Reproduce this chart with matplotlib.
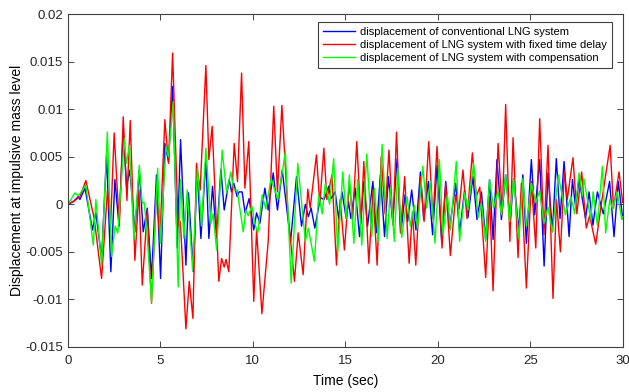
import numpy as np
import matplotlib
matplotlib.use("Agg")
import matplotlib.pyplot as plt

plt.rcParams['font.family'] = ['Liberation Sans', 'DejaVu Sans']

# values, displacement in units of 1e-3
blue_t = [0, 0.3, 0.56, 0.65, 0.92, 1.33, 1.51, 1.82, 2.09, 2.32, 2.54, 2.76, 2.99, 3.17, 3.35,
          3.62, 3.86, 4.07, 4.29, 4.52, 4.79, 5.01, 5.24, 5.44, 5.66, 5.91, 6.09, 6.38, 6.52,
          6.78, 6.99, 7.19, 7.46, 7.62, 7.82, 8.04, 8.27, 8.45, 8.72, 8.85, 8.97, 9.15, 9.25,
          9.42, 9.58, 9.8, 10.05, 10.2, 10.38, 10.65, 10.83, 11.1, 11.33, 11.59, 12.04, 12.36,
          12.63, 12.84, 13.0, 13.15, 13.35, 13.65, 13.85, 14.1, 14.23, 14.45, 14.64, 14.82,
          15.05, 15.17, 15.3, 15.53, 15.77, 16.0, 16.2, 16.49, 16.67, 16.9, 17.12, 17.33, 17.56,
          17.8, 18.0, 18.23, 18.37, 18.59, 18.82, 19.06, 19.24, 19.49, 19.72, 19.96, 20.21,
          20.43, 20.64, 20.97, 21.18, 21.45, 21.63, 21.9, 22.12, 22.36, 22.59, 22.8, 22.99,
          23.2, 23.44, 23.67, 23.92, 24.1, 24.39, 24.6, 24.79, 25.06, 25.24, 25.51, 25.75,
          25.96, 26.2, 26.41, 26.61, 26.83, 27.1, 27.28, 27.46, 27.64, 27.99, 28.18, 28.39,
          28.63, 28.95, 29.29, 29.53, 29.76, 30.0]
blue_y = [0, 0.3, 0.8, 0.5, 1.7, -2.7, -0.9, -5.7, 5.2, -7.1, 2.6, -2.2, 7.8, 1.9, 3.6,
          -2.9, 3.6, -2.9, -0.4, -7.8, 3.1, -7.8, 6.4, 4.5, 12.4, -4.6, 6.8, -6.4, 1.2,
          -7.1, 3.6, -3.6, 4.7, -3.6, 1.9, -3.6, 3.7, -0.6, 2.6, 1.3, 2.2, 0.8, 1.3,
          1.3, -0.9, 0.6, -2.7, -0.9, -2.0, 1.7, -0.6, 3.3, -0.6, 3.6, -3.9, 2.9,
          -2.3, 0.0, -1.3, -0.4, -2.5, 0.7, 0.5, 1.9, 0.6, 1.3, -1.5, 1.3,
          -1.5, 0.3, -1.5, 1.7, -3.4, 2.4, -2.3, 2.4, -3.0, 3.1, -3.4, 2.9, -1.8,
          4.8, -3.0, 1.0, -1.8, 1.5, -2.7, 3.4, -1.6, 2.4, -3.2, 4.1, -3.9,
          2.4, -2.5, 2.2, -3.0, 1.5, -1.4, 2.9, -1.6, 1.3, -3.7, 2.6, -3.7,
          4.7, -1.6, 3.1, -1.8, 2.7, -2.7, 3.1, -4.1, 4.7, -1.1, 4.7, -6.5,
          3.3, -2.9, 4.8, -1.5, 4.5, -3.4, 2.6, -0.4, 2.7, -1.5, 1.3, -2.2,
          1.3, -1.0, 2.4, -3.4, 2.4, -1.5]

red_t = [0, 0.3, 0.65, 0.97, 1.42, 1.82, 2.14, 2.31, 2.5, 2.78, 2.99, 3.19, 3.37, 3.62, 3.84,
         4.02, 4.29, 4.52, 4.79, 4.97, 5.24, 5.44, 5.66, 5.96, 6.08, 6.38, 6.56, 6.76, 6.95,
         7.15, 7.46, 7.62, 7.8, 8.16, 8.31, 8.45, 8.55, 8.7, 8.99, 9.17, 9.39, 9.57, 9.78,
         10.05, 10.2, 10.49, 10.83, 11.13, 11.33, 11.57, 11.9, 12.25, 12.45, 12.72, 12.97,
         13.1, 13.44, 13.62, 13.84, 14.0, 14.28, 14.52, 14.72, 14.95, 15.22, 15.4, 15.62,
         15.85, 16.0, 16.27, 16.5, 16.72, 16.94, 17.15, 17.36, 17.58, 17.77, 17.98, 18.21,
         18.45, 18.63, 18.81, 19.06, 19.26, 19.51, 19.74, 19.96, 20.23, 20.43, 20.68, 20.97,
         21.15, 21.36, 21.58, 21.87, 22.08, 22.27, 22.59, 22.8, 22.99, 23.26, 23.49, 23.67,
         23.9, 24.07, 24.34, 24.52, 24.79, 25.06, 25.3, 25.51, 25.74, 25.96, 26.23, 26.42,
         26.63, 26.85, 27.0, 27.31, 27.52, 27.78, 28.03, 28.21, 28.54, 28.85, 29.32, 29.5,
         29.8, 30.0]
red_y = [0, 0.3, 0.8, 2.5, -1.5, -7.8, 1.5, -2.0, 7.5, -2.3, 9.2, 0.4, 8.8, -5.9, 1.5,
         -8.5, -0.6, -10.4, 1.5, -3.7, 8.9, 4.3, 15.9, -2.3, -1.8, -13.1, -8.1, -12.0, 4.3,
         1.5, 14.6, 4.7, 8.2, -8.1, -5.7, -6.6, -5.8, -7.1, 6.4, 2.4, 13.8, 1.7, 6.6,
         -10.2, -2.7, -11.5, -3.9, 10.3, 1.3, 10.4, -1.0, -8.1, -3.0, -7.4, 1.6,
         -0.4, 5.2, 0.0, 5.9, 0.5, 3.1, -6.4, 0.5, -4.8, 2.2, -1.5, 6.6,
         -2.0, 4.5, -6.2, 1.5, -6.4, 5.0, -1.0, 5.7, -2.2, 7.6, -3.0, 2.9,
         -6.2, -0.8, -6.4, 2.9, -1.8, 6.6, -1.5, 6.1, -4.6, 2.2, -5.4, 1.0,
         -0.5, 3.6, -1.5, 5.4, 0.8, 1.8, -7.7, 0.8, -9.1, 6.4, -1.0, 10.5,
         -3.9, 7.0, -5.6, 2.2, -8.8, 2.4, -4.6, 9.0, -3.2, 6.2, -9.9, 0.5,
         -5.0, 3.5, 0.5, 4.9, -1.0, 3.4, -2.5, -1.2, -4.2, 0.1, 6.2, -0.4,
         3.4, 0.2]

green_t = [0, 0.38, 0.55, 0.68, 0.97, 1.37, 1.51, 1.82, 2.13, 2.36, 2.55, 2.7, 3.05, 3.17,
           3.32, 3.57, 3.86, 4.02, 4.12, 4.25, 4.52, 4.85, 5.01, 5.3, 5.44, 5.69, 5.96, 6.09,
           6.27, 6.45, 6.74, 7.01, 7.23, 7.46, 7.73, 7.85, 8.04, 8.34, 8.58, 8.81, 8.97, 9.15,
           9.48, 9.62, 9.75, 9.95, 10.1, 10.27, 10.5, 10.7, 10.99, 11.35, 11.76, 12.07, 12.43,
           12.84, 13.0, 13.33, 13.56, 13.75, 13.92, 14.15, 14.37, 14.59, 14.86, 15.05, 15.22,
           15.46, 15.67, 15.89, 16.16, 16.43, 16.58, 16.79, 16.99, 17.26, 17.44, 17.65, 17.84,
           18.05, 18.34, 18.52, 18.73, 18.9, 19.19, 19.4, 19.6, 19.85, 20.09, 20.28, 20.52,
           20.68, 21.0, 21.18, 21.45, 21.63, 21.94, 22.18, 22.36, 22.59, 22.8, 23.02, 23.26,
           23.44, 23.67, 23.88, 24.1, 24.39, 24.6, 24.79, 25.06, 25.3, 25.51, 25.74, 25.96,
           26.2, 26.52, 26.9, 27.2, 27.4, 27.64, 27.82, 27.9, 28.27, 28.4, 28.63, 28.9, 29.08,
           29.3, 29.45, 29.7, 29.95, 30.0]
green_y = [0, 1.2, 0.9, 1.2, 2.0, -4.3, 0.5, -6.4, 7.6, -5.5, -2.3, -3.0, 6.9, 4.3,
           6.2, -3.7, 4.1, 0.1, 0.2, -2.3, -10.3, 3.8, -4.1, 6.1, 5.0, 10.8, -8.7, 2.6,
           -3.6, 1.5, -6.9, 3.8, -2.3, 5.9, -2.0, -1.0, -4.8, 5.7, 1.2, 3.4, 1.5, 1.5,
           -2.9, -0.6, -1.2, -0.2, -2.0, -3.0, 1.0, -0.5, 2.7, 0.5, 5.5, -8.3, 4.3,
           -3.9, -2.5, -6.0, 1.0, -1.0, 2.2, 0.0, 4.8, -5.1, 3.4, -1.5, 3.1,
           -4.1, 2.6, -4.3, 5.3, -3.4, 1.7, -3.9, 6.3, -3.6, 1.7, -3.9, 3.8,
           -3.5, 0.8, -2.3, -0.1, -2.5, 4.0, -0.4, 2.4, -4.1, 4.7, -3.2, 1.0,
           -2.7, 4.5, -3.9, 1.2, -0.6, 4.3, -1.4, 0.1, -3.9, 2.6, -0.4, 1.4,
           -1.1, 3.1, -1.8, 2.7, -3.6, 2.7, -2.3, 2.2, 0.2, 1.4, -2.0, -0.3,
           -2.9, 3.1, -1.1, 0.8, -1.0, 3.3, 0.9, 2.7, -1.6, 1.3, -2.2, 4.0, -3.0,
           0.5, -0.5, 1.3, -1.6, -1.3]

labels = ['displacement of conventional LNG system',
          'displacement of LNG system with fixed time delay',
          'displacement of LNG system with compensation']
yticks = [-0.015, -0.01, -0.005, 0, 0.005, 0.01, 0.015, 0.02]
ytick_labels = ['-0.015', '-0.01', '-0.005', '0', '0.005', '0.01', '0.015', '0.02']

fig = plt.figure(figsize=(6.29, 3.92), dpi=100)
ax = fig.add_axes([0.108, 0.115, 0.882, 0.849])

line_kw = dict(lw=1.0, solid_joinstyle='round')
ax.plot(blue_t, np.array(blue_y) * 1e-3, color=(0, 0, 1), label=labels[0], **line_kw)
ax.plot(red_t, np.array(red_y) * 1e-3, color=(1, 0, 0), label=labels[1], **line_kw)
ax.plot(green_t, np.array(green_y) * 1e-3, color=(0, 1, 0), label=labels[2], **line_kw)

ax.set_xlim(0, 30)
ax.set_ylim(-0.015, 0.02)
ax.set_xticks(range(0, 31, 5))
ax.set_yticks(yticks)
ax.set_yticklabels(ytick_labels)
ax.tick_params(direction='in', top=True, right=True, length=4, width=0.6,
               labelsize=9.5, colors='#262626')
ax.tick_params(axis='x', pad=6)
for s in ax.spines.values():
    s.set_color('#404040')
    s.set_linewidth(0.8)

ax.set_xlabel('Time (sec)', fontsize=10, labelpad=5)
ax.set_ylabel('Displacement at impulsive mass level', fontsize=10, labelpad=1)

leg = ax.legend(loc='upper right', bbox_to_anchor=(0.98, 0.976), borderaxespad=0,
                fontsize=8, fancybox=False, framealpha=1, edgecolor='#404040',
                handlelength=2.9, labelspacing=0.3, borderpad=0.4, handletextpad=0.5)
leg.get_frame().set_linewidth(0.8)

fig.savefig('out.png', dpi=100)
